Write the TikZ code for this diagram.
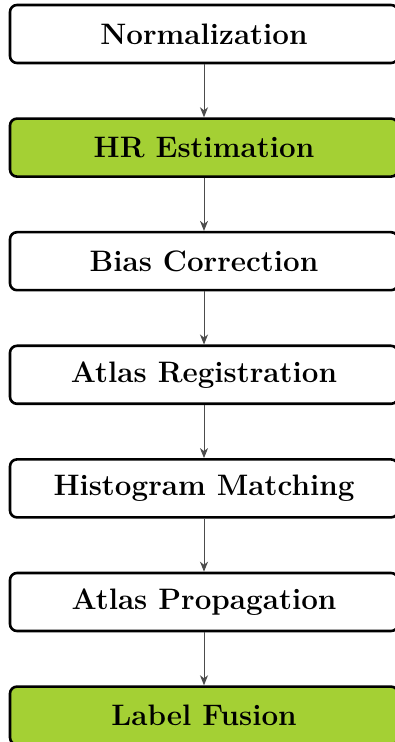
\documentclass[tikz,border=0pt]{standalone}
\usepackage{amsmath}
\usepackage{tikz}
\usetikzlibrary{positioning,arrows.meta}
\definecolor{stagegreen}{RGB}{164,208,52}
\tikzset{
stage/.style={draw=black,line width=1.3pt,rounded corners=3.5pt,minimum width=194pt,minimum height=29pt,font=\fontsize{14.8pt}{18pt}\selectfont\bfseries,fill=white},
keystage/.style={stage,fill=stagegreen},
flow/.style={-{Stealth[length=5pt,width=4pt,inset=1.5pt]},draw=black!70,line width=0.5pt}
}
\begin{document}
\begin{tikzpicture}[node distance=26.5pt]
\useasboundingbox (-102pt,17pt) rectangle (95.5pt,-354pt);
\node[stage] (norm) at (0,0) {Normalization};
\node[keystage,below=of norm] (hrest) {HR Estimation};
\node[stage,below=of hrest] (bias) {Bias Correction};
\node[stage,below=of bias] (atlasreg) {Atlas Registration};
\node[stage,below=of atlasreg] (histmatch) {Histogram Matching};
\node[stage,below=of histmatch] (atlasprop) {Atlas Propagation};
\node[keystage,below=of atlasprop] (fusion) {Label Fusion};
\draw[flow] (norm)--(hrest);
\draw[flow] (hrest)--(bias);
\draw[flow] (bias)--(atlasreg);
\draw[flow] (atlasreg)--(histmatch);
\draw[flow] (histmatch)--(atlasprop);
\draw[flow] (atlasprop)--(fusion);
\end{tikzpicture}
\end{document}
